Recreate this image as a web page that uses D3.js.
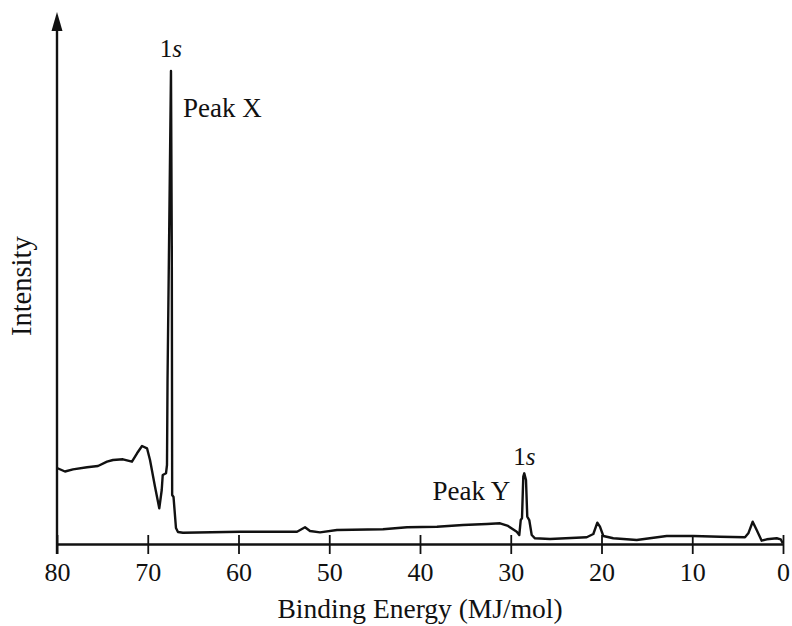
<!DOCTYPE html>
<html>
<head>
<meta charset="utf-8">
<script src="https://cdn.jsdelivr.net/npm/d3@7/dist/d3.min.js"></script>
<style>
  html, body { margin: 0; padding: 0; background: #fff; }
  svg { display: block; }
  svg text { font-family: "Liberation Serif", "Tinos", "DejaVu Serif", serif; fill: #111; }
</style>
</head>
<body>
<svg id="chart" width="792" height="626"></svg>
<script>
// Photoelectron spectrum: binding energy (MJ/mol) vs relative intensity (Peak X = 100)
const energy = [80.0, 79.12, 78.24, 76.69, 75.48, 74.49, 73.83, 72.73, 71.74, 71.18,
  70.63, 70.08, 69.75, 69.20, 68.73, 68.46, 68.35, 67.99, 67.88, 67.82,
  67.66, 67.44, 67.35, 67.31, 67.16, 66.89, 66.67, 66.12, 59.83, 56.20,
  53.55, 52.67, 52.12, 51.02, 49.15, 44.08, 41.43, 38.13, 35.26, 32.62,
  31.18, 30.30, 29.34, 29.06, 28.90, 28.76, 28.62, 28.51, 28.32, 28.18,
  27.96, 27.69, 27.33, 25.67, 21.63, 20.90, 20.46, 20.17, 19.80, 18.70,
  16.12, 12.82, 9.88, 6.94, 4.19, 3.82, 3.34, 2.90, 2.35, 1.79,
  0.69, 0.25, 0.03];
const intensity = [16.07, 15.33, 15.79, 16.22, 16.49, 17.40, 17.76, 17.91, 17.40, 19.18,
  20.72, 20.23, 17.76, 12.11, 7.55, 11.42, 14.59, 14.95, 16.70, 34.67,
  62.16, 100, 62.16, 10.36, 9.94, 3.38, 2.54, 2.39, 2.60, 2.60,
  2.60, 3.53, 2.75, 2.47, 2.96, 3.11, 3.53, 3.66, 4.02, 4.23,
  4.38, 3.81, 2.60, 1.90, 5.07, 5.43, 14.23, 14.95, 13.53, 5.77,
  5.07, 1.90, 1.21, 1.06, 1.42, 2.11, 4.50, 3.66, 1.69, 1.21,
  0.85, 1.69, 1.69, 1.54, 1.42, 2.26, 4.71, 2.96, 0.70, 0.99,
  1.21, 0.99, 0.15];

const tickValues = [80, 70, 60, 50, 40, 30, 20, 10, 0];
const tickLabels = ["80", "70", "60", "50", "40", "30", "20", "10", "0"];

// Annotated peaks: [energy, intensity]
const peakX = [67.44, 100];
const peakY = [28.51, 14.95];
const axisTop = 112.5;   // intensity at the arrow tip

const serif = "'Liberation Serif', 'Tinos', 'DejaVu Serif', serif";

const svg = d3.select("#chart");
const x = d3.scaleLinear().domain([80, 0]).range([57, 783]);
const y = d3.scaleLinear().domain([0, 100]).range([544, 71]);

// x axis with ticks crossing the line
const xAxis = svg.append("g")
  .attr("transform", `translate(0,${y(0)})`)
  .call(d3.axisBottom(x).tickValues(tickValues)
    .tickFormat((d, i) => tickLabels[i]).tickSizeOuter(0))
  .attr("font-family", serif);
xAxis.select(".domain").attr("stroke", "#111").attr("stroke-width", 2.6);
xAxis.selectAll(".tick line").attr("stroke", "#111").attr("stroke-width", 1.8)
  .attr("y1", -9).attr("y2", 10);
xAxis.selectAll(".tick text")
  .attr("y", 37).attr("dy", 0)
  .style("font-family", serif)
  .style("font-size", "26px").attr("fill", "#111");

// y axis with arrow head
svg.append("line")
  .attr("x1", x(80)).attr("x2", x(80))
  .attr("y1", y(0) + 10).attr("y2", y(axisTop) + 14)
  .attr("stroke", "#111").attr("stroke-width", 2.4);
svg.append("path")
  .attr("d", d3.line()([[x(80), y(axisTop)], [x(80) - 5.5, y(axisTop) + 19], [x(80) + 5.5, y(axisTop) + 19]]) + "Z")
  .attr("fill", "#111");

// spectrum trace
const pts = energy.map((e, i) => [e, intensity[i]]);
svg.append("path")
  .datum(pts)
  .attr("fill", "none")
  .attr("stroke", "#111")
  .attr("stroke-width", 2.4)
  .attr("stroke-linejoin", "round")
  .attr("d", d3.line().x(d => x(d[0])).y(d => y(d[1])));

// axis titles
svg.append("text")
  .attr("x", (x(80) + x(0)) / 2).attr("y", 618)
  .attr("text-anchor", "middle")
  .style("font-family", serif).style("font-size", "27.5px")
  .text("Binding Energy (MJ/mol)");
svg.append("text")
  .attr("transform", `translate(31,${y(54.5)}) rotate(-90)`)
  .attr("text-anchor", "middle")
  .style("font-family", serif).style("font-size", "28.5px")
  .text("Intensity");

// peak annotations
function orbital(px, py, dy) {
  const t = svg.append("text")
    .attr("x", x(px)).attr("y", y(py) + dy)
    .attr("text-anchor", "middle")
    .style("font-family", serif).style("font-size", "25px");
  t.append("tspan").text("1");
  t.append("tspan").style("font-style", "italic").text("s");
}
orbital(peakX[0], peakX[1], -14);
orbital(peakY[0], peakY[1], -8);

svg.append("text")
  .attr("x", x(peakX[0]) + 12).attr("y", y(peakX[1]) + 46)
  .style("font-family", serif).style("font-size", "27px").text("Peak X");
svg.append("text")
  .attr("x", x(peakY[0]) - 14).attr("y", y(peakY[1]) + 27)
  .attr("text-anchor", "end")
  .style("font-family", serif).style("font-size", "27px").text("Peak Y");
</script>
</body>
</html>
